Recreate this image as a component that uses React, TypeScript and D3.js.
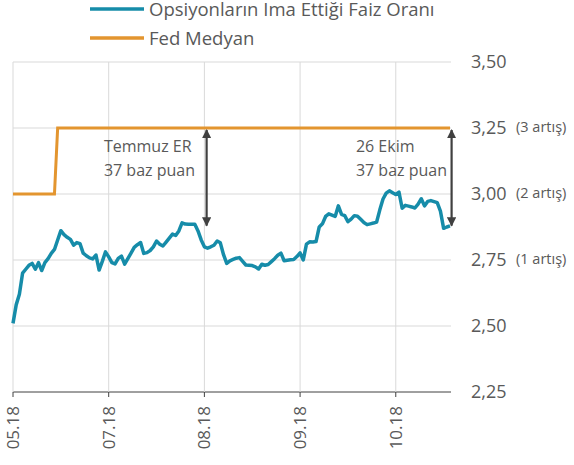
import React from "react";
import * as d3 from "d3";

// trading-day index -> implied rate
const impliedRate = [
  2.51, 2.58, 2.62, 2.7, 2.715, 2.73, 2.737, 2.715, 2.74, 2.71,
  2.74, 2.755, 2.775, 2.79, 2.826, 2.861, 2.846, 2.836, 2.828, 2.806,
  2.816, 2.812, 2.776, 2.766, 2.758, 2.754, 2.769, 2.712, 2.745, 2.781,
  2.762, 2.74, 2.735, 2.756, 2.765, 2.734, 2.755, 2.776, 2.798, 2.808,
  2.816, 2.775, 2.778, 2.786, 2.8, 2.822, 2.81, 2.803, 2.818, 2.833,
  2.848, 2.843, 2.86, 2.891, 2.886, 2.885, 2.885, 2.885, 2.86, 2.826,
  2.8, 2.795, 2.8, 2.806, 2.822, 2.815, 2.77, 2.737, 2.747, 2.752,
  2.757, 2.759, 2.745, 2.731, 2.73, 2.729, 2.724, 2.716, 2.734, 2.73,
  2.733, 2.744, 2.755, 2.768, 2.776, 2.747, 2.749, 2.751, 2.752, 2.763,
  2.777, 2.75, 2.81, 2.819, 2.818, 2.82, 2.875, 2.887, 2.915, 2.925,
  2.92, 2.915, 2.955, 2.923, 2.918, 2.895, 2.905, 2.918, 2.916, 2.904,
  2.892, 2.884, 2.887, 2.89, 2.894, 2.94, 2.981, 3.003, 3.012, 3.005,
  2.998, 3.007, 2.946, 2.957, 2.954, 2.951, 2.947, 2.962, 2.982, 2.955,
  2.972, 2.975, 2.971, 2.967, 2.935, 2.87, 2.875, 2.879,
];

// Fed median step: index breakpoints and levels
const fedIdx = [0, 13, 14, 137];
const fedVals = [3.0, 3.0, 3.25, 3.25];

const xTickIdx = [0, 30, 60, 90, 120];
const xTickLabels = ["05.18", "07.18", "08.18", "09.18", "10.18"];

const yTicks = [2.25, 2.5, 2.75, 3.0, 3.25, 3.5];
const yTickNotes = ["", "", "(1 artış)", "(2 artış)", "(3 artış)", ""];

const notes = [
  { idx: 60.7, top: 3.25, bottom: 2.88, lines: ["Temmuz ER", "37 baz puan"], tx: 28.5 },
  { idx: 137.5, top: 3.25, bottom: 2.88, lines: ["26 Ekim", "37 baz puan"], tx: 107.5 },
];

const legendItems = [
  { label: "Opsiyonların Ima Ettiği Faiz Oranı", color: "#168ca9" },
  { label: "Fed Medyan", color: "#e3952f" },
];

const font = "'Open Sans', sans-serif";
const textColor = "#595959";

export default function App() {
  const width = 574;
  const height = 465;
  const x = d3.scaleLinear().domain([0, 137]).range([13, 450]);
  const y = d3.scaleLinear().domain([2.25, 3.5]).range([392, 62]);

  const rateLine = d3
    .line<number>()
    .x((d, i) => x(i))
    .y(d => y(d))(impliedRate);

  const fedLine = d3
    .line<number>()
    .x((d, i) => x(fedIdx[i]))
    .y(d => y(d))(fedVals);

  const fmt = (v: number) => v.toFixed(2).replace(".", ",");

  return (
    <div style={{ position: "absolute", left: 0, top: 0 }}>
      <svg width={width} height={height} style={{ display: "block", fontFamily: font }}>
        <defs>
          <marker id="ah" viewBox="0 0 10 10" refX="9" refY="5" markerWidth="4.2" markerHeight="4.2" orient="auto-start-reverse">
            <path d="M0,0 L10,5 L0,10 z" fill="#404040" />
          </marker>
        </defs>

        {/* horizontal grid */}
        {yTicks.map(t => (
          <line key={"h" + t} x1={x(0)} x2={451} y1={y(t)} y2={y(t)}
            stroke={t === 2.25 ? "#404040" : "#d9d9d9"} strokeWidth={1} />
        ))}
        {/* vertical grid + ticks */}
        {xTickIdx.map(t => (
          <g key={"v" + t}>
            <line x1={x(t)} x2={x(t)} y1={y(3.5)} y2={y(2.25)} stroke="#d9d9d9" strokeWidth={1} />
            <line x1={x(t)} x2={x(t)} y1={y(2.25)} y2={y(2.25) + 5} stroke="#404040" strokeWidth={1} />
          </g>
        ))}

        {/* x labels */}
        {xTickIdx.map((t, i) => (
          <text key={"xl" + t} transform={`translate(${x(t) + 6},406) rotate(-90)`}
            textAnchor="end" fontSize={17} fill={textColor}>
            {xTickLabels[i]}
          </text>
        ))}

        {/* y labels */}
        {yTicks.map((t, i) => (
          <g key={"yl" + t}>
            <text x={471} y={y(t)} dy="0.35em" fontSize={18} fill={textColor}>{fmt(t)}</text>
            {yTickNotes[i] && (
              <text x={516} y={y(t) - 1} dy="0.35em" fontSize={14.5} fill={textColor}>{yTickNotes[i]}</text>
            )}
          </g>
        ))}

        <path d={fedLine || ""} fill="none" stroke="#e3952f" strokeWidth={3} />
        <path d={rateLine || ""} fill="none" stroke="#168ca9" strokeWidth={3.5} strokeLinejoin="round" />

        {/* annotations */}
        {notes.map((n, i) => (
          <g key={"n" + i}>
            <line x1={x(n.idx)} x2={x(n.idx)} y1={y(n.top) + 2} y2={y(n.bottom)}
              stroke="#404040" strokeWidth={2.2} markerStart="url(#ah)" markerEnd="url(#ah)" />
            {n.lines.map((l, j) => (
              <text key={j} x={x(n.tx)} y={146 + j * 24} dy="0.35em" fontSize={16} fill={textColor}>{l}</text>
            ))}
          </g>
        ))}

        {/* legend */}
        {legendItems.map((it, i) => (
          <g key={"lg" + i} transform={`translate(0,${9 + i * 29})`}>
            <line x1={90} x2={144} y1={0} y2={0} stroke={it.color} strokeWidth={3.5} />
            <text x={149} y={7} fontSize={18.5} fill={textColor}>{it.label}</text>
          </g>
        ))}
      </svg>
    </div>
  );
}
